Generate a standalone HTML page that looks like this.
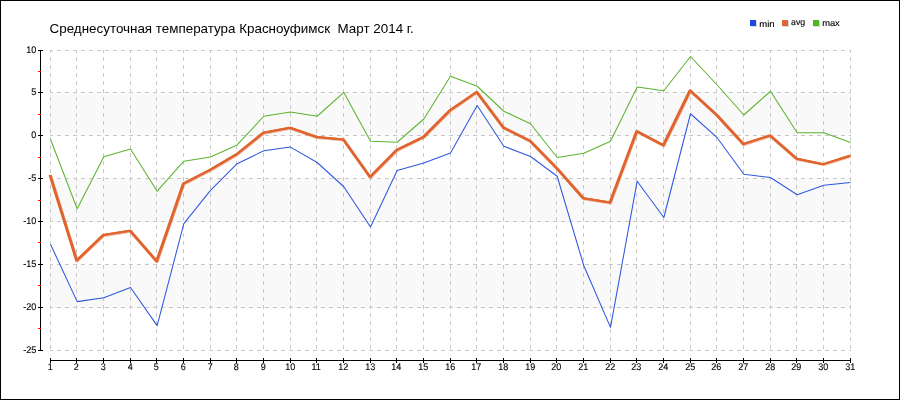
<!DOCTYPE html>
<html lang="ru"><head><meta charset="utf-8"><title>Среднесуточная температура Красноуфимск Март 2014 г.</title>
<style>html,body{margin:0;padding:0;background:#fff;overflow:hidden}svg{display:block}text{font-family:"Liberation Sans",sans-serif;fill:#000}.t{font-size:13.4px}.a{font-size:9.6px;stroke:#000;stroke-width:.12px;text-rendering:geometricPrecision}.l{font-size:8.9px;stroke:#000;stroke-width:.12px;text-rendering:geometricPrecision}</style></head><body>
<svg width="900" height="400" viewBox="0 0 900 400">
<rect x="0" y="0" width="900" height="400" fill="#fff"/>
<g shape-rendering="crispEdges">
<rect x="50" y="93" width="801" height="43" fill="#f9f9f9"/>
<rect x="50" y="179" width="801" height="43" fill="#f9f9f9"/>
<rect x="50" y="265" width="801" height="43" fill="#f9f9f9"/>
</g>
<g stroke="#c8c8c8" stroke-width="1" stroke-dasharray="4 4" stroke-dashoffset="1" shape-rendering="crispEdges" fill="none">
<line x1="50" y1="50.5" x2="851" y2="50.5"/>
<line x1="50" y1="92.5" x2="851" y2="92.5"/>
<line x1="50" y1="135.5" x2="851" y2="135.5"/>
<line x1="50" y1="178.5" x2="851" y2="178.5"/>
<line x1="50" y1="221.5" x2="851" y2="221.5"/>
<line x1="50" y1="264.5" x2="851" y2="264.5"/>
<line x1="50" y1="307.5" x2="851" y2="307.5"/>
<line x1="50" y1="350.5" x2="851" y2="350.5"/>
<line x1="50.5" y1="50" x2="50.5" y2="351"/>
<line x1="76.5" y1="50" x2="76.5" y2="351"/>
<line x1="103.5" y1="50" x2="103.5" y2="351"/>
<line x1="130.5" y1="50" x2="130.5" y2="351"/>
<line x1="156.5" y1="50" x2="156.5" y2="351"/>
<line x1="183.5" y1="50" x2="183.5" y2="351"/>
<line x1="210.5" y1="50" x2="210.5" y2="351"/>
<line x1="236.5" y1="50" x2="236.5" y2="351"/>
<line x1="263.5" y1="50" x2="263.5" y2="351"/>
<line x1="290.5" y1="50" x2="290.5" y2="351"/>
<line x1="316.5" y1="50" x2="316.5" y2="351"/>
<line x1="343.5" y1="50" x2="343.5" y2="351"/>
<line x1="370.5" y1="50" x2="370.5" y2="351"/>
<line x1="396.5" y1="50" x2="396.5" y2="351"/>
<line x1="423.5" y1="50" x2="423.5" y2="351"/>
<line x1="450.5" y1="50" x2="450.5" y2="351"/>
<line x1="476.5" y1="50" x2="476.5" y2="351"/>
<line x1="503.5" y1="50" x2="503.5" y2="351"/>
<line x1="530.5" y1="50" x2="530.5" y2="351"/>
<line x1="556.5" y1="50" x2="556.5" y2="351"/>
<line x1="583.5" y1="50" x2="583.5" y2="351"/>
<line x1="610.5" y1="50" x2="610.5" y2="351"/>
<line x1="636.5" y1="50" x2="636.5" y2="351"/>
<line x1="663.5" y1="50" x2="663.5" y2="351"/>
<line x1="690.5" y1="50" x2="690.5" y2="351"/>
<line x1="716.5" y1="50" x2="716.5" y2="351"/>
<line x1="743.5" y1="50" x2="743.5" y2="351"/>
<line x1="770.5" y1="50" x2="770.5" y2="351"/>
<line x1="796.5" y1="50" x2="796.5" y2="351"/>
<line x1="823.5" y1="50" x2="823.5" y2="351"/>
<line x1="850.5" y1="50" x2="850.5" y2="351"/>
</g>
<g stroke="#000" stroke-width="1" shape-rendering="crispEdges" fill="none">
<line x1="40.5" y1="50" x2="40.5" y2="351"/>
<line x1="38" y1="50.5" x2="43" y2="50.5"/>
<line x1="38" y1="92.5" x2="43" y2="92.5"/>
<line x1="38" y1="135.5" x2="43" y2="135.5"/>
<line x1="38" y1="178.5" x2="43" y2="178.5"/>
<line x1="38" y1="221.5" x2="43" y2="221.5"/>
<line x1="38" y1="264.5" x2="43" y2="264.5"/>
<line x1="38" y1="307.5" x2="43" y2="307.5"/>
<line x1="38" y1="350.5" x2="43" y2="350.5"/>
<line x1="50" y1="360.5" x2="851" y2="360.5"/>
<line x1="50.5" y1="358" x2="50.5" y2="363"/>
<line x1="76.5" y1="358" x2="76.5" y2="363"/>
<line x1="103.5" y1="358" x2="103.5" y2="363"/>
<line x1="130.5" y1="358" x2="130.5" y2="363"/>
<line x1="156.5" y1="358" x2="156.5" y2="363"/>
<line x1="183.5" y1="358" x2="183.5" y2="363"/>
<line x1="210.5" y1="358" x2="210.5" y2="363"/>
<line x1="236.5" y1="358" x2="236.5" y2="363"/>
<line x1="263.5" y1="358" x2="263.5" y2="363"/>
<line x1="290.5" y1="358" x2="290.5" y2="363"/>
<line x1="316.5" y1="358" x2="316.5" y2="363"/>
<line x1="343.5" y1="358" x2="343.5" y2="363"/>
<line x1="370.5" y1="358" x2="370.5" y2="363"/>
<line x1="396.5" y1="358" x2="396.5" y2="363"/>
<line x1="423.5" y1="358" x2="423.5" y2="363"/>
<line x1="450.5" y1="358" x2="450.5" y2="363"/>
<line x1="476.5" y1="358" x2="476.5" y2="363"/>
<line x1="503.5" y1="358" x2="503.5" y2="363"/>
<line x1="530.5" y1="358" x2="530.5" y2="363"/>
<line x1="556.5" y1="358" x2="556.5" y2="363"/>
<line x1="583.5" y1="358" x2="583.5" y2="363"/>
<line x1="610.5" y1="358" x2="610.5" y2="363"/>
<line x1="636.5" y1="358" x2="636.5" y2="363"/>
<line x1="663.5" y1="358" x2="663.5" y2="363"/>
<line x1="690.5" y1="358" x2="690.5" y2="363"/>
<line x1="716.5" y1="358" x2="716.5" y2="363"/>
<line x1="743.5" y1="358" x2="743.5" y2="363"/>
<line x1="770.5" y1="358" x2="770.5" y2="363"/>
<line x1="796.5" y1="358" x2="796.5" y2="363"/>
<line x1="823.5" y1="358" x2="823.5" y2="363"/>
<line x1="850.5" y1="358" x2="850.5" y2="363"/>
</g>
<g stroke="#ff0000" stroke-width="1" shape-rendering="crispEdges">
<line x1="38" y1="71.5" x2="41" y2="71.5"/>
<line x1="38" y1="114.5" x2="41" y2="114.5"/>
<line x1="38" y1="157.5" x2="41" y2="157.5"/>
<line x1="38" y1="200.5" x2="41" y2="200.5"/>
<line x1="38" y1="242.5" x2="41" y2="242.5"/>
<line x1="38" y1="285.5" x2="41" y2="285.5"/>
<line x1="38" y1="328.5" x2="41" y2="328.5"/>
</g>
<g class="a" text-anchor="end">
<text transform="translate(36.3,53) scale(.94,1)">10</text>
<text transform="translate(36.3,95) scale(.94,1)">5</text>
<text transform="translate(36.3,138) scale(.94,1)">0</text>
<text transform="translate(36.3,181) scale(.94,1)">-5</text>
<text transform="translate(36.3,224) scale(.94,1)">-10</text>
<text transform="translate(36.3,267) scale(.94,1)">-15</text>
<text transform="translate(36.3,310) scale(.94,1)">-20</text>
<text transform="translate(36.3,353) scale(.94,1)">-25</text>
</g>
<g class="a" text-anchor="middle">
<text transform="translate(50.2,370) scale(.94,1)">1</text>
<text transform="translate(76.2,370) scale(.94,1)">2</text>
<text transform="translate(103.2,370) scale(.94,1)">3</text>
<text transform="translate(130.2,370) scale(.94,1)">4</text>
<text transform="translate(156.2,370) scale(.94,1)">5</text>
<text transform="translate(183.2,370) scale(.94,1)">6</text>
<text transform="translate(210.2,370) scale(.94,1)">7</text>
<text transform="translate(236.2,370) scale(.94,1)">8</text>
<text transform="translate(263.2,370) scale(.94,1)">9</text>
<text transform="translate(290.2,370) scale(.94,1)">10</text>
<text transform="translate(316.2,370) scale(.94,1)">11</text>
<text transform="translate(343.2,370) scale(.94,1)">12</text>
<text transform="translate(370.2,370) scale(.94,1)">13</text>
<text transform="translate(396.2,370) scale(.94,1)">14</text>
<text transform="translate(423.2,370) scale(.94,1)">15</text>
<text transform="translate(450.2,370) scale(.94,1)">16</text>
<text transform="translate(476.2,370) scale(.94,1)">17</text>
<text transform="translate(503.2,370) scale(.94,1)">18</text>
<text transform="translate(530.2,370) scale(.94,1)">19</text>
<text transform="translate(556.2,370) scale(.94,1)">20</text>
<text transform="translate(583.2,370) scale(.94,1)">21</text>
<text transform="translate(610.2,370) scale(.94,1)">22</text>
<text transform="translate(636.2,370) scale(.94,1)">23</text>
<text transform="translate(663.2,370) scale(.94,1)">24</text>
<text transform="translate(690.2,370) scale(.94,1)">25</text>
<text transform="translate(716.2,370) scale(.94,1)">26</text>
<text transform="translate(743.2,370) scale(.94,1)">27</text>
<text transform="translate(770.2,370) scale(.94,1)">28</text>
<text transform="translate(796.2,370) scale(.94,1)">29</text>
<text transform="translate(823.2,370) scale(.94,1)">30</text>
<text transform="translate(850.2,370) scale(.94,1)">31</text>
</g>
<polyline points="50.50,244.25 77.17,301.64 103.83,297.70 130.50,287.45 157.17,325.64 183.83,223.70 210.50,190.45 237.17,163.70 263.83,150.75 290.50,147.10 317.17,162.50 343.83,186.75 370.50,227.00 397.17,170.50 423.83,163.00 450.50,153.00 477.17,105.50 503.83,146.25 530.50,156.50 557.17,176.25 583.83,265.75 610.50,327.36 637.17,181.20 663.83,217.50 690.50,113.75 717.17,137.70 743.83,174.25 770.50,177.50 797.17,194.75 823.83,185.20 850.50,182.50" fill="none" stroke="#2e57e0" stroke-width="1.05" stroke-linejoin="round" stroke-linecap="butt"/>
<polyline points="50.50,175.45 77.17,261.00 103.83,235.45 130.50,231.20 157.17,261.80 183.83,184.20 210.50,170.45 237.17,154.70 263.83,133.25 290.50,128.25 317.17,137.50 343.83,140.00 370.50,177.50 397.17,150.50 423.83,137.50 450.50,110.75 477.17,92.50 503.83,128.00 530.50,141.40 557.17,168.60 583.83,198.75 610.50,203.00 637.17,131.75 663.83,145.75 690.50,91.00 717.17,115.50 743.83,144.50 770.50,136.00 797.17,159.25 823.83,164.65 850.50,156.25" fill="none" stroke="#e0642e" stroke-width="3.0" stroke-opacity="0.45" stroke-linejoin="round" stroke-linecap="butt"/>
<polyline points="49.50,174.95 76.17,260.50 102.83,234.95 129.50,230.70 156.17,261.30 182.83,183.70 209.50,169.95 236.17,154.20 262.83,132.75 289.50,127.75 316.17,137.00 342.83,139.50 369.50,177.00 396.17,150.00 422.83,137.00 449.50,110.25 476.17,92.00 502.83,127.50 529.50,140.90 556.17,168.10 582.83,198.25 609.50,202.50 636.17,131.25 662.83,145.25 689.50,90.50 716.17,115.00 742.83,144.00 769.50,135.50 796.17,158.75 822.83,164.15 849.50,155.75" fill="none" stroke="#e0642e" stroke-width="2.0" stroke-linejoin="round" stroke-linecap="butt"/>
<polyline points="50.50,174.95 77.17,260.50 103.83,234.95 130.50,230.70 157.17,261.30 183.83,183.70 210.50,169.95 237.17,154.20 263.83,132.75 290.50,127.75 317.17,137.00 343.83,139.50 370.50,177.00 397.17,150.00 423.83,137.00 450.50,110.25 477.17,92.00 503.83,127.50 530.50,140.90 557.17,168.10 583.83,198.25 610.50,202.50 637.17,131.25 663.83,145.25 690.50,90.50 717.17,115.00 743.83,144.00 770.50,135.50 797.17,158.75 823.83,164.15 850.50,155.75" fill="none" stroke="#e0642e" stroke-width="2.0" stroke-linejoin="round" stroke-linecap="butt"/>
<polyline points="50.50,139.20 77.17,208.70 103.83,156.79 130.50,149.07 157.17,191.20 183.83,161.20 210.50,156.95 237.17,144.95 263.83,116.25 290.50,112.00 317.17,116.25 343.83,92.40 370.50,141.25 397.17,142.25 423.83,119.00 450.50,76.25 477.17,86.25 503.83,111.25 530.50,123.75 557.17,157.50 583.83,153.25 610.50,141.30 637.17,87.00 663.83,90.75 690.50,56.50 717.17,85.00 743.83,115.00 770.50,91.25 797.17,132.70 823.83,132.70 850.50,142.50" fill="none" stroke="#5cb42e" stroke-width="1.05" stroke-linejoin="round" stroke-linecap="butt"/>
<text class="t" x="49.6" y="33.3" xml:space="preserve">Среднесуточная температура Красноуфимск  Март 2014 г.</text>
<rect x="751" y="21" width="6" height="6" fill="#000" fill-opacity=".15" shape-rendering="crispEdges"/><rect x="750" y="20" width="6" height="6" fill="#1f46e6" shape-rendering="crispEdges"/><text class="l" x="759.3" y="26.6" textLength="15.3" lengthAdjust="spacingAndGlyphs">min</text>
<rect x="783" y="21" width="6" height="6" fill="#000" fill-opacity=".15" shape-rendering="crispEdges"/><rect x="782" y="20" width="6" height="6" fill="#e2642e" shape-rendering="crispEdges"/><text class="l" x="791" y="24.7" textLength="14.2" lengthAdjust="spacingAndGlyphs">avg</text>
<rect x="814" y="21" width="6" height="6" fill="#000" fill-opacity=".15" shape-rendering="crispEdges"/><rect x="813" y="20" width="6" height="6" fill="#4cb81e" shape-rendering="crispEdges"/><text class="l" x="822.2" y="25.9" textLength="17.6" lengthAdjust="spacingAndGlyphs">max</text>
<rect x="0.5" y="0.5" width="899" height="399" fill="none" stroke="#000" stroke-width="1" shape-rendering="crispEdges"/>
</svg></body></html>
